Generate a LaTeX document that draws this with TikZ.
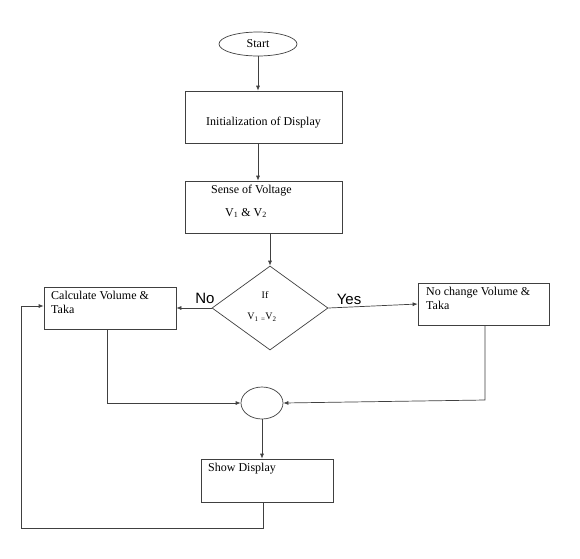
\documentclass[tikz,border=0pt]{standalone}
\usepackage{fontspec}
\setmainfont{Liberation Serif}
\newfontfamily\arialfont{Liberation Sans}
\usetikzlibrary{arrows.meta,shapes.geometric,positioning}
\begin{document}
\begin{tikzpicture}[x=1pt,y=-1pt,
  line/.style={draw=black!75,line width=0.7pt},
  arr/.style={line,-{Latex[length=5pt,width=4pt]}},
  boxst/.style={line,rectangle,inner sep=0pt},
  txt/.style={font=\fontsize{12}{14}\selectfont,inner sep=0pt,anchor=west},
  lab/.style={font=\arialfont\fontsize{15}{17}\selectfont,inner sep=0pt}]
\useasboundingbox (0,0) rectangle (580,558);
\fill[white] (0,0) rectangle (580,558);
% shapes
\node[line,ellipse,minimum width=78pt,minimum height=24pt,inner sep=0pt,font=\fontsize{12}{14}\selectfont] (start) at (258,44) {Start};
\node[boxst,minimum width=157pt,minimum height=52pt] (init) at (263.5,117) {};
\node[txt,anchor=center] at (263.5,123) {Initialization of Display};
\node[boxst,minimum width=157pt,minimum height=52pt] (sense) at (263.5,207) {};
\node[txt] at (211,191) {Sense of Voltage};
\node[txt] at (225,213) {V\textsubscript{1} \& V\textsubscript{2}};
\node[line,diamond,minimum width=116pt,minimum height=84pt,inner sep=0pt,aspect=1.38] (dec) at (270,308) {};
\node[font=\fontsize{10}{12}\selectfont,inner sep=0pt] at (265,295) {If};
\node[font=\fontsize{10}{12}\selectfont,inner sep=0pt] at (262,317) {V\textsubscript{1} \textsubscript{=}V\textsubscript{2}};
\node[boxst,minimum width=132pt,minimum height=42pt] (calc) at (110,308) {};
\node[txt,align=left,anchor=north west] at (51,291) {Calculate Volume \&\\Taka};
\node[boxst,minimum width=131pt,minimum height=42pt] (nochg) at (483.5,304) {};
\node[txt,align=left,anchor=north west] at (426,287) {No change Volume \&\\Taka};
\node[line,ellipse,minimum width=42pt,minimum height=32pt,inner sep=0pt] (join) at (262,403) {};
\node[boxst,minimum width=132pt,minimum height=43pt] (show) at (267,480.5) {};
\node[txt] at (208,469) {Show Display};
\node[lab] at (205,298) {No};
\node[lab] at (349,299) {Yes};
\coordinate (c1) at (107,403);
\coordinate (c2) at (485,400);
\coordinate (b1) at (263,528);
\coordinate (b2) at (21,528);
\coordinate (b3) at (21,306);
% connectors
\draw[arr] (start.south) -- (init.north -| start.south);
\draw[arr] (init.south -| start.south) -- (sense.north -| start.south);
\draw[arr] (sense.south -| dec.north) -- (dec.north);
\draw[arr] (dec.west) -- (calc.east |- dec.west);
\draw[arr] (dec.east) -- (nochg.west);
\draw[arr] (calc.south -| c1) -- (c1) -- (join.west);
\draw[arr] (nochg.south -| c2) -- (c2) -- (join.east);
\draw[arr] (join.south) -- (show.north -| join.south);
\draw[arr] (show.south -| b1) -- (b1) -- (b2) -- (b3) -- (calc.west |- b3);
\end{tikzpicture}
\end{document}
